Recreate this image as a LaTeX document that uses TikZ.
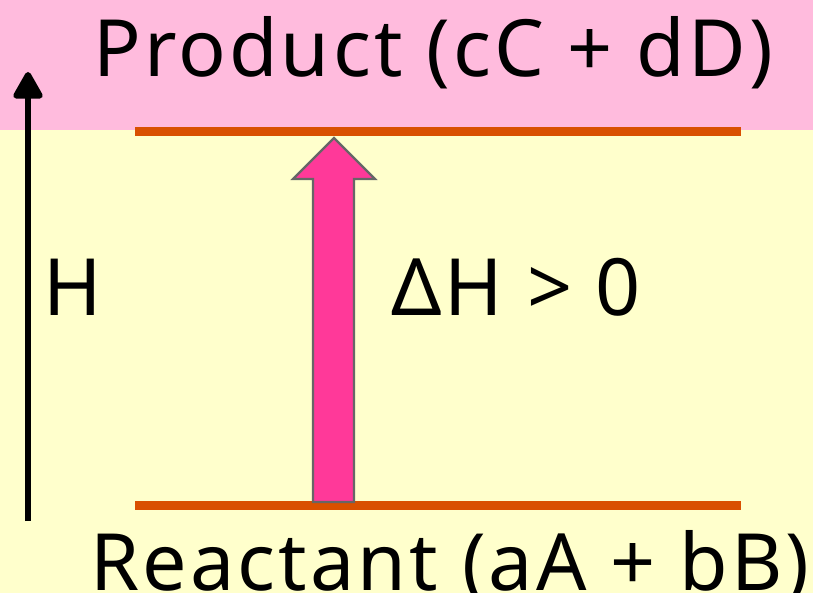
\documentclass[tikz,border=0pt]{standalone}
\usepackage{fontspec}
\setmainfont{Noto Sans}[LetterSpace=4]
\usetikzlibrary{arrows.meta}
\definecolor{bandpink}{RGB}{255,187,221}
\definecolor{bgyellow}{RGB}{255,255,204}
\definecolor{levelorange}{RGB}{217,80,0}
\definecolor{arrowpink}{RGB}{255,57,153}
\definecolor{arrowgray}{RGB}{102,102,102}
\tikzset{
  level/.style={draw=levelorange, line width=9pt},
  bigtext/.style={font=\fontsize{79}{80}\selectfont, inner sep=0pt, anchor=base west},
}
\begin{document}
\begin{tikzpicture}[x=1pt,y=-1pt]
\useasboundingbox (0,0) rectangle (813,593);
\fill[bgyellow] (0,0) rectangle (813,593);
\fill[bandpink] (0,0) rectangle (813,130);
% levels
\coordinate (pl) at (135,132);
\coordinate (pr) at (741,132);
\coordinate (rl) at (135,505);
\coordinate (rr) at (741,505);
\draw[level] (pl) -- (pr);
\draw[level] (rl) -- (rr);
% block arrow
\draw[fill=arrowpink, draw=arrowgray, line width=2.2pt, line join=miter]
  (313,502) -- (313,179) -- (293,179) -- (334,138) -- (375,179) -- (354,179) -- (354,502) -- cycle;
% H axis
\coordinate (hb) at (28,521);
\coordinate (ht) at (28,72);
\draw[line width=6pt, -{Triangle[length=30pt,width=32pt,round]}] (hb) -- (ht);
% texts
\node[bigtext] (prod) at (93,77) {Product (cC + dD)};
\node[bigtext] (reac) at (90,590) {Reactant (aA + bB)};
\node[bigtext] (hlab) at (43,316) {H};
\node[bigtext] (dh) at (391,316) {ΔH > 0};
\end{tikzpicture}
\end{document}
